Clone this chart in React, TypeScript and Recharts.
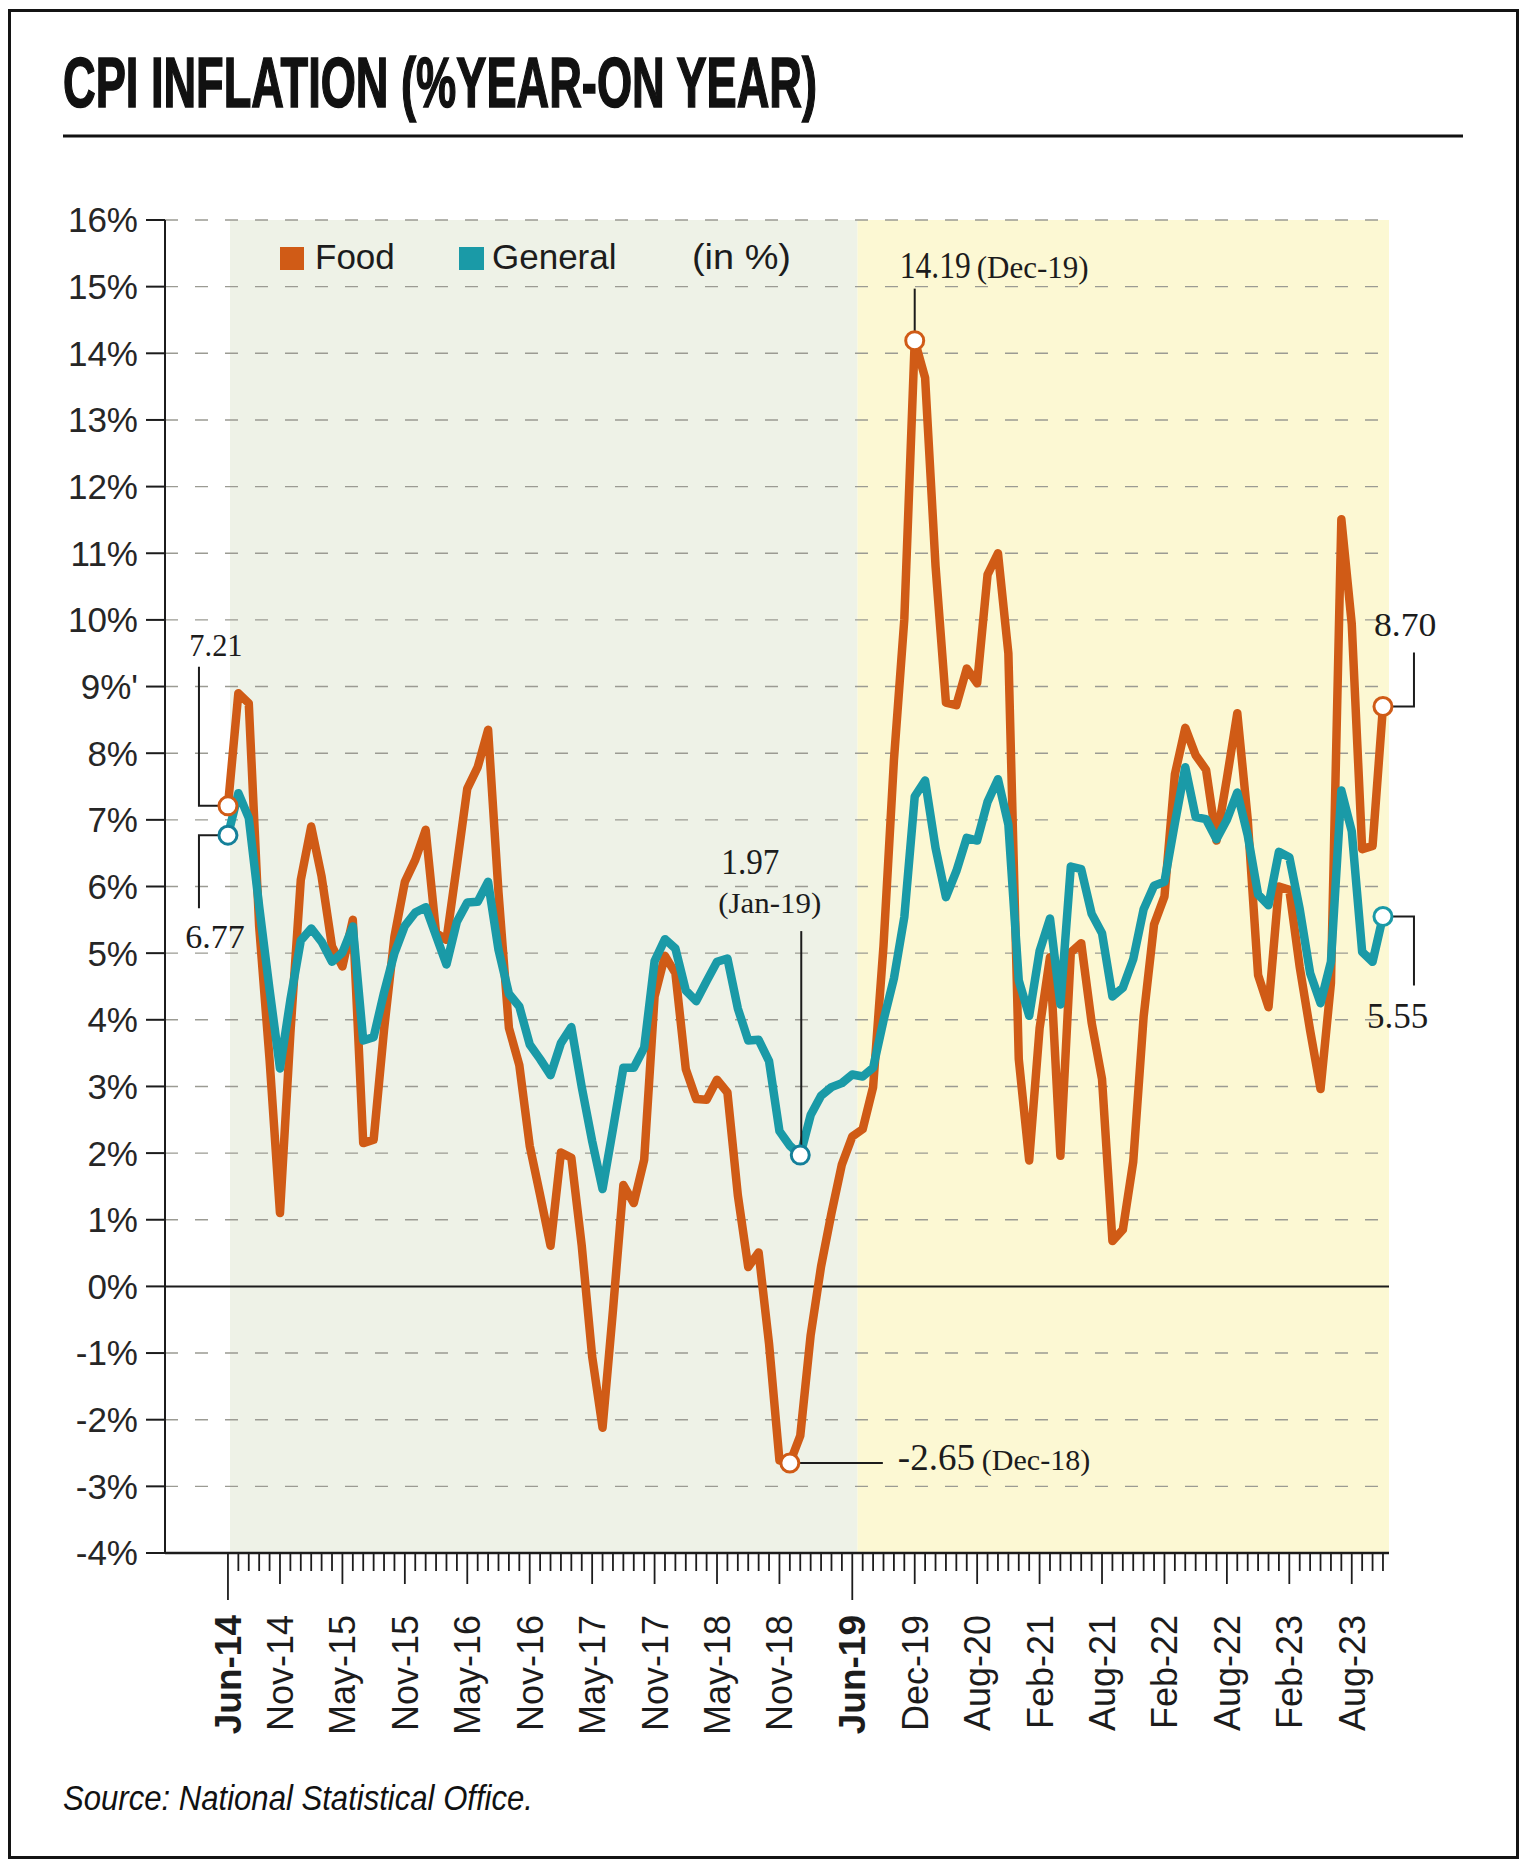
import React from 'react';
import { LineChart, Line, XAxis, YAxis, ReferenceArea, ReferenceLine } from 'recharts';

const FOOD = '#d05b16';
const GENERAL = '#1a9aa7';
const GENERAL_RING = '#14809a';
const INK = '#1c1c1c';
const SANS = '"Liberation Sans", Arial, sans-serif';
const SERIF = '"Liberation Serif", "Times New Roman", serif';

// month categories, Jun-14 .. Nov-23 (Apr-20 and May-20 were not published)
const monthNames = ['Jan', 'Feb', 'Mar', 'Apr', 'May', 'Jun', 'Jul', 'Aug', 'Sep', 'Oct', 'Nov', 'Dec'];
const skipped = ['Apr-20', 'May-20'];
const months: string[] = [];
for (let y = 14; y <= 23; y++) {
    monthNames.forEach((m, k) => {
        const label = `${m}-${y}`;
        if (y === 14 && k < 5) return;
        if (y === 23 && k > 10) return;
        if (skipped.includes(label)) return;
        months.push(label);
    });
}

const food: number[] = [
    7.21, 8.9, 8.75, 5.4, 3.4, 1.1, 3.8, 6.1, 6.9, 6.15, 5.1, 4.8, 5.5, 2.15, 2.2, 3.85,
    5.25, 6.07, 6.4, 6.85, 5.3, 5.2, 6.32, 7.47, 7.79, 8.35, 5.91, 3.88, 3.32, 2.11, 1.37,
    0.61, 2.01, 1.93, 0.61, -1.05, -2.12, -0.36, 1.52, 1.25, 1.9, 4.35, 4.96,
    4.7, 3.26, 2.81, 2.8, 3.1, 2.91, 1.37, 0.29, 0.51, -0.86, -2.61, -2.65,
    -2.24, -0.73, 0.3, 1.1, 1.83, 2.25, 2.36, 2.99, 5.11, 7.89, 10.01, 14.19,
    13.63, 10.81, 8.76, 8.72, 9.27, 9.05, 10.68, 11.0, 9.5, 3.41,
    1.89, 3.87, 4.94, 1.96, 5.01, 5.15, 3.96, 3.11, 0.68, 0.85, 1.87, 4.05,
    5.43, 5.85, 7.68, 8.38, 7.97, 7.75, 6.69, 7.62, 8.6, 7.01, 4.67, 4.19,
    6.0, 5.95, 4.79, 3.84, 2.96, 4.55, 11.51, 9.94, 6.56, 6.61, 8.7,
];

const general: number[] = [
    6.77, 7.4, 7.03, 5.7, 4.45, 3.27, 4.3, 5.19, 5.37, 5.17, 4.87, 5.01, 5.4, 3.69, 3.74, 4.41,
    5.0, 5.41, 5.61, 5.69, 5.26, 4.83, 5.47, 5.76, 5.77, 6.07, 5.05, 4.39, 4.2, 3.63, 3.41,
    3.17, 3.65, 3.89, 2.99, 2.18, 1.46, 2.36, 3.28, 3.28, 3.58, 4.88, 5.21,
    5.07, 4.44, 4.28, 4.58, 4.87, 4.92, 4.17, 3.69, 3.7, 3.38, 2.33, 2.11,
    1.97, 2.57, 2.86, 2.99, 3.05, 3.18, 3.15, 3.28, 3.99, 4.62, 5.54, 7.35,
    7.59, 6.58, 5.84, 6.23, 6.73, 6.69, 7.27, 7.61, 6.93, 4.59,
    4.06, 5.03, 5.52, 4.23, 6.3, 6.26, 5.59, 5.3, 4.35, 4.48, 4.91, 5.66,
    6.01, 6.07, 6.95, 7.79, 7.04, 7.01, 6.71, 7.0, 7.41, 6.77, 5.88, 5.72,
    6.52, 6.44, 5.66, 4.7, 4.25, 4.87, 7.44, 6.83, 5.02, 4.87, 5.55,
];

const yTicks = [-4, -3, -2, -1, 0, 1, 2, 3, 4, 5, 6, 7, 8, 9, 10, 11, 12, 13, 14, 15, 16];
const tickMonths = ['Jun-14', 'Nov-14', 'May-15', 'Nov-15', 'May-16', 'Nov-16', 'May-17', 'Nov-17',
    'May-18', 'Nov-18', 'Jun-19', 'Dec-19', 'Aug-20', 'Feb-21', 'Aug-21', 'Feb-22', 'Aug-22', 'Feb-23', 'Aug-23'];
const boldMonths = ['Jun-14', 'Jun-19'];
const splitMonth = 'Jun-19';

const rows = months.map((month, i) => ({ i, month, food: food[i], general: general[i] }));
const X_MIN = -6.05;
const X_MAX = months.length - 1 + 0.58;
const gridValues = yTicks.filter(v => v !== 0 && v !== -4);

// annotation text; sx squeezes the serif a little where the print is condensed
const Note = ({ x, y, size, sx = 1, anchor = 'start', children }: any) => (
    <text transform={`translate(${x},${y}) scale(${sx},1)`} fontSize={size} fontFamily={SERIF}
        fill={INK} textAnchor={anchor}>{children}</text>
);

const Ring = ({ cx, cy, color }: any) => (
    <circle cx={cx} cy={cy} r={9} fill="#fff" stroke={color} strokeWidth={3} />
);

const wire = { stroke: INK, strokeWidth: 2, fill: 'none' };

const renderFoodDot = (p: any) => {
    const { cx, cy, index } = p;
    const m = months[index];
    const v = food[index].toFixed(2);
    const key = `f-${index}`;
    if (m === 'Jun-14') return (
        <g key={key}>
            <path d={`M${cx - 9},${cy} H${cx - 29} V${cy - 139}`} {...wire} />
            <Note x={cx - 12} y={cy - 150} size={32} sx={0.95} anchor="middle">{v}</Note>
            <Ring cx={cx} cy={cy} color={FOOD} />
        </g>
    );
    if (m === 'Dec-18') return (
        <g key={key}>
            <path d={`M${cx + 9},${cy} H${cx + 93}`} {...wire} />
            <Note x={cx + 108} y={cy + 7} size={37}>{v}</Note>
            <Note x={cx + 192} y={cy + 7} size={30}>({m})</Note>
            <Ring cx={cx} cy={cy} color={FOOD} />
        </g>
    );
    if (m === 'Dec-19') return (
        <g key={key}>
            <path d={`M${cx},${cy - 9} V${cy - 52}`} {...wire} />
            <Note x={cx - 15} y={cy - 63} size={38} sx={0.83}>{v}</Note>
            <Note x={cx + 62} y={cy - 63} size={31}>({m})</Note>
            <Ring cx={cx} cy={cy} color={FOOD} />
        </g>
    );
    if (index === months.length - 1) return (
        <g key={key}>
            <path d={`M${cx + 9},${cy} H${cx + 31} V${cy - 54}`} {...wire} />
            <Note x={cx - 9} y={cy - 71} size={34} sx={1.05}>{v}</Note>
            <Ring cx={cx} cy={cy} color={FOOD} />
        </g>
    );
    return <g key={key} />;
};

const renderGeneralDot = (p: any) => {
    const { cx, cy, index } = p;
    const m = months[index];
    const v = general[index].toFixed(2);
    const key = `g-${index}`;
    if (m === 'Jun-14') return (
        <g key={key}>
            <path d={`M${cx - 9},${cy} H${cx - 29} V${cy + 73}`} {...wire} />
            <Note x={cx - 13} y={cy + 113} size={34} anchor="middle">{v}</Note>
            <Ring cx={cx} cy={cy} color={GENERAL_RING} />
        </g>
    );
    if (m === 'Jan-19') return (
        <g key={key}>
            <path d={`M${cx + 1},${cy - 9} V${cy - 224}`} {...wire} />
            <Note x={cx - 79} y={cy - 281} size={35} sx={0.95}>{v}</Note>
            <Note x={cx - 82} y={cy - 242} size={30} sx={1.03}>({m})</Note>
            <Ring cx={cx} cy={cy} color={GENERAL_RING} />
        </g>
    );
    if (index === months.length - 1) return (
        <g key={key}>
            <path d={`M${cx + 9},${cy} H${cx + 31} V${cy + 69}`} {...wire} />
            <Note x={cx - 16} y={cy + 112} size={35}>{v}</Note>
            <Ring cx={cx} cy={cy} color={GENERAL} />
        </g>
    );
    return <g key={key} />;
};

const MonthTick = (props: any) => {
    const { x, y, payload } = props;
    const label = months[payload.value];
    const shown = tickMonths.includes(label);
    const bold = boldMonths.includes(label);
    const len = bold ? 47 : shown ? 31 : 18;
    return (
        <g>
            <line x1={x} x2={x} y1={y} y2={y + len} stroke={INK} strokeWidth={1.8} />
            {shown && (
                <text transform={`translate(${x + 13},${y + 62}) rotate(-90)`} textAnchor="end"
                    fontSize={bold ? 37 : 36} fontWeight={bold ? 700 : 400} fontFamily={SANS} fill={INK}>
                    {label}
                </text>
            )}
        </g>
    );
};

const App = () => {
    const split = months.indexOf(splitMonth) + 0.5;
    return (
        <div style={{ position: 'absolute', left: 0, top: 0, width: 1526, height: 1866, background: '#fff' }}>
            <div style={{ position: 'absolute', left: 0, top: 0 }}>
                <LineChart width={1526} height={1866} data={rows}
                    margin={{ top: 220, right: 137, bottom: 113, left: 0 }}>
                    <ReferenceArea x1={0.2} x2={split} y1={-4} y2={16} fill="#eef2e7" fillOpacity={1} stroke="none" />
                    <ReferenceArea x1={split} x2={X_MAX} y1={-4} y2={16} fill="#fcf8d3" fillOpacity={1} stroke="none" />
                    {gridValues.map(v => (
                        <ReferenceLine key={v} y={v} stroke="#9b9b93" strokeWidth={1.4} strokeDasharray="13 17" />
                    ))}
                    <ReferenceLine y={0} stroke={INK} strokeWidth={2} />
                    <XAxis type="number" dataKey="i" domain={[X_MIN, X_MAX]} ticks={months.map((_, i) => i)}
                        interval={0} tick={<MonthTick />} tickLine={false} tickSize={0} tickMargin={0}
                        axisLine={{ stroke: INK, strokeWidth: 2.5 }} height={200} />
                    <YAxis type="number" domain={[-4, 16]} ticks={yTicks} interval={0} width={165}
                        tickSize={19} tickMargin={8}
                        tick={{ fill: '#262626', fontSize: 35, fontFamily: SANS }}
                        tickLine={{ stroke: INK, strokeWidth: 2 }} axisLine={{ stroke: INK, strokeWidth: 2 }}
                        tickFormatter={(v: number) => (v === 9 ? "9%'" : `${v}%`)} />
                    <Line type="linear" dataKey="food" stroke={FOOD} strokeWidth={8.5} strokeLinejoin="round"
                        dot={renderFoodDot} activeDot={false} isAnimationActive={false} />
                    <Line type="linear" dataKey="general" stroke={GENERAL} strokeWidth={8.5} strokeLinejoin="round"
                        dot={renderGeneralDot} activeDot={false} isAnimationActive={false} />
                </LineChart>
            </div>

            <svg width={1526} height={1866} style={{ position: 'absolute', left: 0, top: 0, pointerEvents: 'none' }}>
                {/* frame + title */}
                <rect x={9.5} y={10.5} width={1508} height={1847} fill="none" stroke="#141414" strokeWidth={3} />
                <text x={63} y={107} fontFamily={SANS} fontWeight={700} fontSize={70} fill="#111" stroke="#111"
                    strokeWidth={1.6} textLength={754} lengthAdjust="spacingAndGlyphs">
                    CPI INFLATION (%YEAR-ON YEAR)
                </text>
                <line x1={63} x2={1463} y1={136} y2={136} stroke="#111" strokeWidth={3} />

                {/* legend */}
                <rect x={280} y={247} width={24} height={23} fill={FOOD} />
                <text x={315} y={269} fontFamily={SANS} fontSize={35} fill={INK}>Food</text>
                <rect x={459} y={247} width={25} height={23} fill={GENERAL} />
                <text x={492} y={269} fontFamily={SANS} fontSize={35} fill={INK}>General</text>
                <text x={692} y={269} fontFamily={SANS} fontSize={35} fill={INK} textLength={99}
                    lengthAdjust="spacingAndGlyphs">(in %)</text>

                {/* source */}
                <text x={63} y={1810} fontFamily={SANS} fontStyle="italic" fontSize={35} fill="#111"
                    textLength={470} lengthAdjust="spacingAndGlyphs">Source: National Statistical Office.</text>
            </svg>
        </div>
    );
};

export default App;
